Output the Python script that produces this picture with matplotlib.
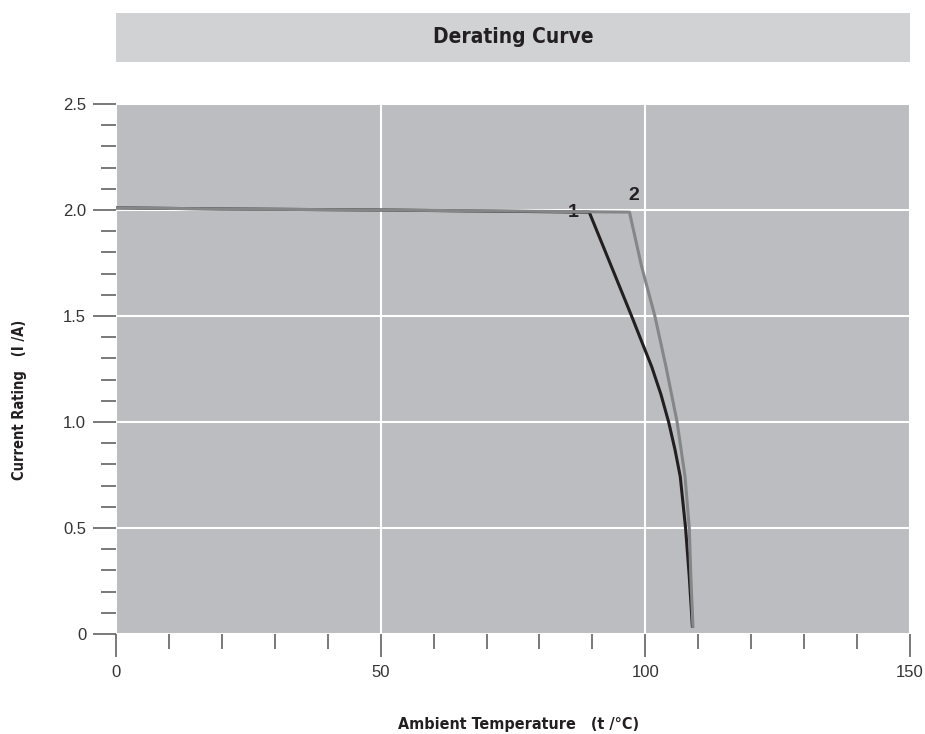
import matplotlib
matplotlib.use('Agg')
import matplotlib.pyplot as plt
from matplotlib.patches import Rectangle
from matplotlib.ticker import MultipleLocator

# curve 1 (black) and curve 2 (gray)
temp_1 = [0, 20, 50, 89.4, 93.6, 97.4, 99.3, 101.2, 102.95, 104.4, 105.6, 106.6,
          107.6, 108.3, 108.9]
amps_1 = [2.01, 2.005, 2.0, 1.99, 1.733, 1.5, 1.38, 1.261, 1.13, 1.0, 0.87, 0.742,
          0.5, 0.27, 0.03]
temp_2 = [0, 20, 50, 97.0, 99.3, 101.8, 103.9, 106.0, 107.5, 108.3, 108.6, 109.0]
amps_2 = [2.01, 2.005, 2.0, 1.99, 1.733, 1.5, 1.261, 1.0, 0.742, 0.5, 0.27, 0.03]

x_ticks = [0, 50, 100, 150]
y_ticks = [0, 0.5, 1.0, 1.5, 2.0, 2.5]
y_tick_labels = ['0', '0.5', '1.0', '1.5', '2.0', '2.5']

plt.rcParams['font.family'] = ['Liberation Sans', 'DejaVu Sans']
BOLD_NARROW = dict(family=['DejaVu Sans'], fontstretch='condensed', fontweight='bold')

fig = plt.figure(figsize=(9.25, 7.34), dpi=100)
ax = fig.add_axes([116 / 925, 100 / 734, 794 / 925, 530 / 734])

# title band
fig.patches.append(Rectangle((116 / 925, (734 - 62) / 734), 794 / 925, 49 / 734,
                             transform=fig.transFigure, facecolor='#d1d2d4',
                             edgecolor='none'))
fig.text(513 / 925, (734 - 37) / 734, 'Derating Curve', ha='center', va='center',
         fontsize=15, color='#231f20', **BOLD_NARROW)

ax.set_facecolor('#bcbdc0')
ax.set_xlim(0, 150)
ax.set_ylim(0, 2.5)
for s in ax.spines.values():
    s.set_visible(False)

ax.set_xticks(x_ticks)
ax.set_yticks(y_ticks)
ax.set_yticklabels(y_tick_labels)
ax.xaxis.set_minor_locator(MultipleLocator(10))
ax.yaxis.set_minor_locator(MultipleLocator(0.1))
ax.tick_params(which='major', length=16.5, width=1.1, color='#555555',
               labelsize=12, labelcolor='#333333')
ax.tick_params(which='minor', length=11, width=1.1, color='#555555')
ax.tick_params(axis='x', which='major', pad=6)
ax.tick_params(axis='y', which='major', pad=5)

ax.grid(True, which='major', color='white', linewidth=1.5)
ax.set_axisbelow(True)

ax.plot(temp_1, amps_1, color='#231f20', linewidth=2.2, solid_capstyle='butt',
        solid_joinstyle='round', zorder=3)
ax.plot(temp_2, amps_2, color='#858688', linewidth=2.2, solid_capstyle='butt',
        solid_joinstyle='round', zorder=4)

ax.text(86.3, 1.99, '1', ha='center', va='center', fontsize=14,
        fontweight='bold', color='#231f20')
ax.text(97.9, 2.07, '2', ha='center', va='center', fontsize=14,
        fontweight='bold', color='#231f20')

fig.text(519 / 925, (734 - 725) / 734, 'Ambient Temperature   (t /°C)', ha='center',
         va='center', fontsize=11.5, color='#231f20', **BOLD_NARROW)
fig.text(20 / 925, (734 - 400) / 734, 'Current Rating   (I /A)', ha='center',
         va='center', rotation=90, fontsize=10.5, color='#231f20', **BOLD_NARROW)

plt.savefig('out.png', dpi=100)
plt.close()
